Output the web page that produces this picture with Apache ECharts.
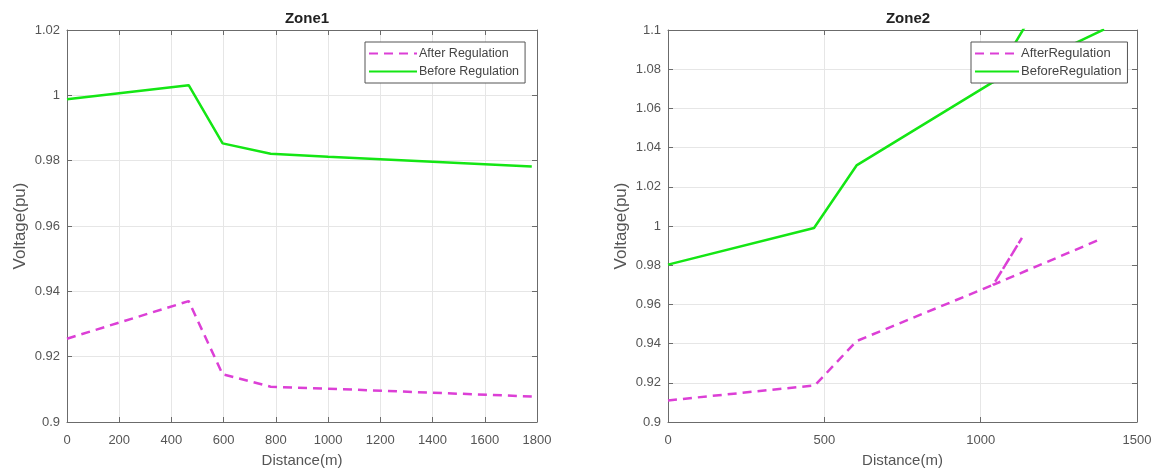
<!DOCTYPE html>
<html>
<head>
<meta charset="utf-8">
<script src="https://cdn.jsdelivr.net/npm/echarts@6/dist/echarts.min.js"></script>
<style>
html,body{margin:0;padding:0;background:#fff;}
#chart{width:1164px;height:473px;}
</style>
</head>
<body>
<div id="chart"></div>
<script>
// ---- Data ----
const zone1Distance = [0, 466, 596, 780, 1000, 1780];
const zone1Before   = [0.9988, 1.0031, 0.9853, 0.9821, 0.9812, 0.9782];
const zone1After    = [0.9255, 0.9370, 0.9146, 0.9108, 0.9102, 0.9078];

// Zone2 path: trunk, then branch A, back to junction, then branch B
const zone2Distance = [0, 467, 603, 1034, 1150, 1034, 1395];
const zone2Before   = [0.9803, 0.9990, 1.0309, 1.0729, 1.1040, 1.0729, 1.1003];
const zone2DistanceAfter = [0, 470, 603, 1040, 1132, 1040, 1375];
const zone2After    = [0.9110, 0.9187, 0.9413, 0.9700, 0.9939, 0.9700, 0.9927];

const zone1XTicks = {min: 0, max: 1800, interval: 200};
const zone1YTicks = {min: 0.9, max: 1.02, interval: 0.02};
const zone2XTicks = {min: 0, max: 1500, interval: 500};
const zone2YTicks = {min: 0.9, max: 1.1, interval: 0.02};

const titles = ['Zone1', 'Zone2'];
const namesLeft = ['After Regulation', 'Before Regulation'];
const namesRight = ['AfterRegulation', 'BeforeRegulation'];

const FONT = 'Arial, "Liberation Sans", sans-serif';
const AXIS_COLOR = '#6b6b6b';
const LABEL_COLOR = '#555';
const GREEN = '#14e614';
const MAGENTA = '#dc3fd6';

function zip(xs, ys){ return xs.map((x,i)=>[x, ys[i]]); }
function fmtY(v){ return String(+v.toFixed(2)); }
function fmtX(v){ return String(Math.round(v)); }

function mainX(t, grid){
  return {type:'value', gridIndex:grid, position:'bottom', min:t.min, max:t.max, interval:t.interval,
    name:'Distance(m)', nameLocation:'middle', nameGap:31,
    nameTextStyle:{fontFamily:FONT, fontSize:15, color:LABEL_COLOR},
    axisLine:{show:true, onZero:false, lineStyle:{color:AXIS_COLOR, width:1}},
    axisTick:{show:true, inside:true, length:5, lineStyle:{color:AXIS_COLOR}},
    axisLabel:{show:true, margin:12, fontFamily:FONT, fontSize:13, color:LABEL_COLOR, formatter:fmtX, showMinLabel:true, showMaxLabel:true},
    splitLine:{show:true, lineStyle:{color:'#e6e6e6', width:1}}};
}
function topX(t, grid){
  return {type:'value', gridIndex:grid, position:'top', min:t.min, max:t.max, interval:t.interval,
    axisLine:{show:true, onZero:false, lineStyle:{color:AXIS_COLOR, width:1}},
    axisTick:{show:true, inside:true, length:5, lineStyle:{color:AXIS_COLOR}},
    axisLabel:{show:false}, splitLine:{show:false}};
}
function mainY(t, grid){
  return {type:'value', gridIndex:grid, position:'left', min:t.min, max:t.max, interval:t.interval,
    name:'Voltage(pu)', nameLocation:'middle', nameGap:38,
    nameTextStyle:{fontFamily:FONT, fontSize:17, color:LABEL_COLOR},
    axisLine:{show:true, onZero:false, lineStyle:{color:AXIS_COLOR, width:1}},
    axisTick:{show:true, inside:true, length:5, lineStyle:{color:AXIS_COLOR}},
    axisLabel:{show:true, margin:7, fontFamily:FONT, fontSize:13, color:LABEL_COLOR, formatter:fmtY, showMinLabel:true, showMaxLabel:true},
    splitLine:{show:true, lineStyle:{color:'#e6e6e6', width:1}}};
}
function rightY(t, grid){
  return {type:'value', gridIndex:grid, position:'right', min:t.min, max:t.max, interval:t.interval,
    axisLine:{show:true, onZero:false, lineStyle:{color:AXIS_COLOR, width:1}},
    axisTick:{show:true, inside:true, length:5, lineStyle:{color:AXIS_COLOR}},
    axisLabel:{show:false}, splitLine:{show:false}};
}

function lineSeries(name, data, xi, yi, color, dashed){
  return {type:'line', name:name, data:data, xAxisIndex:xi, yAxisIndex:yi,
    showSymbol:false, symbol:'none', clip:true, animation:false,
    itemStyle:{color:color},
    lineStyle:{color:color, width:2.5, type: dashed ? [9,6] : 'solid'}};
}

function legendFor(names, left, top, itemWidth, fontSize){
  return {orient:'vertical', left:left, top:top, data:names,
    itemWidth:itemWidth, itemHeight:14, itemGap:5,
    padding:[5,6,5,3], backgroundColor:'#fff', borderColor:'#555', borderWidth:1,
    itemStyle:{opacity:0},
    textStyle:{fontFamily:FONT, fontSize:fontSize, color:'#444', padding:[0,0,0,-3]}};
}

const option = {
  backgroundColor:'#fff',
  animation:false,
  title:[
    {text:titles[0], left:302, top:6, textAlign:'center', textStyle:{fontFamily:FONT, fontSize:15, fontWeight:'bold', color:'#222'}},
    {text:titles[1], left:903, top:6, textAlign:'center', textStyle:{fontFamily:FONT, fontSize:15, fontWeight:'bold', color:'#222'}}
  ],
  grid:[
    {left:67, top:30, width:470, height:392, show:false},
    {left:668, top:30, width:469, height:392, show:false}
  ],
  xAxis:[mainX(zone1XTicks,0), topX(zone1XTicks,0), mainX(zone2XTicks,1), topX(zone2XTicks,1)],
  yAxis:[mainY(zone1YTicks,0), rightY(zone1YTicks,0), mainY(zone2YTicks,1), rightY(zone2YTicks,1)],
  legend:[
    legendFor(namesLeft, 365, 42, 48, 12.5),
    legendFor(namesRight, 971, 42, 44, 13)
  ],
  series:[
    lineSeries(namesLeft[0], zip(zone1Distance, zone1After), 0, 0, MAGENTA, true),
    lineSeries(namesLeft[1], zip(zone1Distance, zone1Before), 0, 0, GREEN, false),
    lineSeries(namesRight[0], zip(zone2DistanceAfter, zone2After), 2, 2, MAGENTA, true),
    lineSeries(namesRight[1], zip(zone2Distance, zone2Before), 2, 2, GREEN, false)
  ]
};

const chart = echarts.init(document.getElementById('chart'), null, {renderer:'canvas'});
chart.setOption(option);
</script>
</body>
</html>
